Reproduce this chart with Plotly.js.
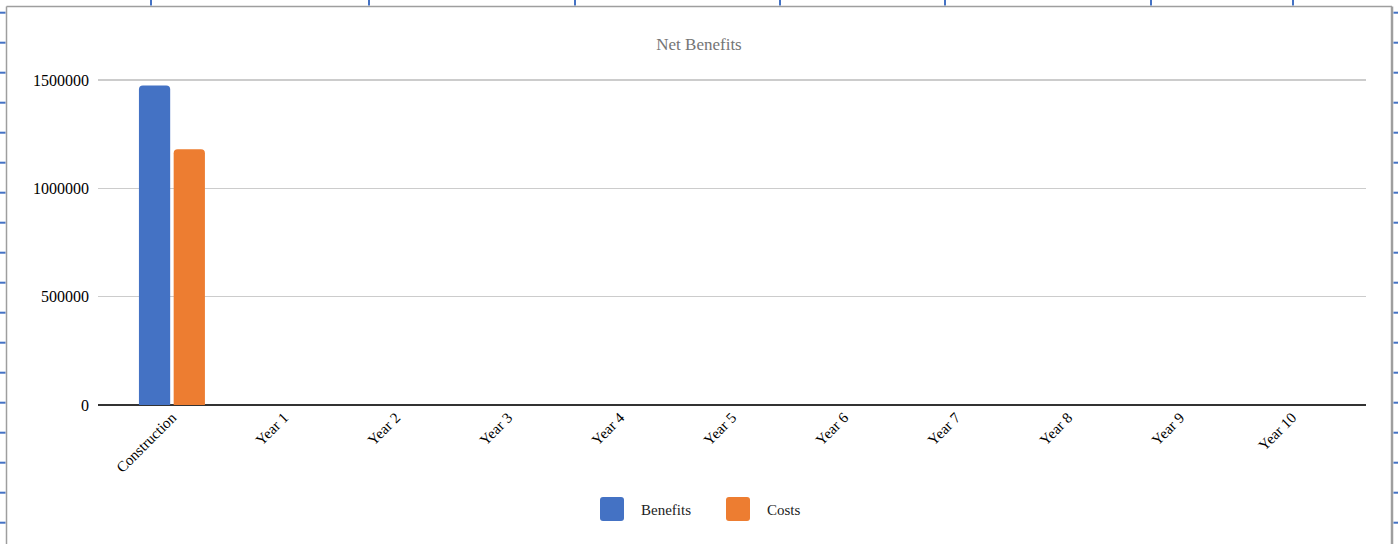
<!DOCTYPE html>
<html>
<head>
<meta charset="utf-8">
<script src="https://cdn.plot.ly/plotly-3.0.1.min.js"></script>
<style>
  html, body { margin: 0; padding: 0; background: #fff; }
  #chart { width: 1398px; height: 544px; }
</style>
</head>
<body>
<div id="chart"></div>
<script>
// ---- data ----
const categories = ["Construction", "Year 1", "Year 2", "Year 3", "Year 4", "Year 5",
                    "Year 6", "Year 7", "Year 8", "Year 9", "Year 10"];
const benefits = [1475000, 0, 0, 0, 0, 0, 0, 0, 0, 0, 0];
const costs    = [1180000, 0, 0, 0, 0, 0, 0, 0, 0, 0, 0];
const yTicks   = [0, 500000, 1000000, 1500000];
const seriesNames = ["Benefits", "Costs"];
const chartTitle = "Net Benefits";

// ---- styles ----
const BLUE = "#4472c4";
const ORANGE = "#ed7d31";
const FONT = "Liberation Serif, Times New Roman, serif";

const traces = [
  { type: "bar", name: seriesNames[0], x: categories, y: benefits,
    marker: { color: BLUE, cornerradius: 4 }, showlegend: false, hoverinfo: "x+y" },
  { type: "bar", name: seriesNames[1], x: categories, y: costs,
    marker: { color: ORANGE, cornerradius: 4 }, showlegend: false, hoverinfo: "x+y" }
];

const W = 1398, H = 544;
const frameLines = [
  { x0: 6.5, y0: 6.5, x1: 1392, y1: 6.5, color: "#9e9e9e", w: 1.5 },
  { x0: 6.5, y0: 6.5, x1: 6.5, y1: 544, color: "#9e9e9e", w: 1.5 },
  { x0: 1392, y0: 6.5, x1: 1392, y1: 544, color: "#9e9e9e", w: 2.5 }
];
const leftTicksY = [];
for (let k = 0; k < 18; k++) leftTicksY.push(12.7 + 30 * k);
const topTicksX = [151, 369, 575, 780, 945, 1151, 1293];

const layout = {
  width: W, height: H,
  margin: { l: 98, r: 32, t: 76, b: 139 },
  paper_bgcolor: "#ffffff",
  plot_bgcolor: "#ffffff",
  font: { family: FONT, size: 15, color: "#000" },
  title: { text: chartTitle, x: 0.5, xanchor: "center", y: 1 - 44 / H, yanchor: "middle",
           font: { family: FONT, size: 17, color: "#757575" } },
  barmode: "group",
  bargap: 0.38,
  bargroupgap: 0.1,
  showlegend: false,
  xaxis: {
    type: "category",
    range: [-0.66, 10.66],
    tickangle: -45,
    showgrid: false,
    showline: false,
    zeroline: false,
    ticks: "",
    tickfont: { family: FONT, size: 15, color: "#000" },
    fixedrange: true
  },
  yaxis: {
    range: [0, 1500000 + (4 / 108.33) * 500000],
    tickvals: yTicks,
    ticktext: yTicks.map(v => String(v)),
    showgrid: true,
    gridcolor: "#cccccc",
    gridwidth: 1.5,
    zeroline: true,
    zerolinecolor: "#333333",
    zerolinewidth: 2,
    showline: false,
    ticks: "",
    ticklen: 0,
    ticklabelstandoff: 8,
    tickfont: { family: FONT, size: 16, color: "#000" },
    fixedrange: true
  },
  shapes: [],
  annotations: []
};

function toPaperX(x) { return (x - layout.margin.l) / (W - layout.margin.l - layout.margin.r); }
function toPaperY(y) { return 1 - (y - layout.margin.t) / (H - layout.margin.t - layout.margin.b); }

frameLines.forEach(f => layout.shapes.push({
  type: "line", xref: "paper", yref: "paper", layer: "above",
  x0: toPaperX(f.x0), x1: toPaperX(f.x1), y0: toPaperY(f.y0), y1: toPaperY(f.y1),
  line: { color: f.color, width: f.w }
}));
leftTicksY.forEach(y => {
  layout.shapes.push({ type: "line", xref: "paper", yref: "paper", layer: "above",
    x0: toPaperX(0), x1: toPaperX(5.5), y0: toPaperY(y), y1: toPaperY(y),
    line: { color: BLUE, width: 2 } });
  layout.shapes.push({ type: "line", xref: "paper", yref: "paper", layer: "above",
    x0: toPaperX(1393.5), x1: toPaperX(1398), y0: toPaperY(y), y1: toPaperY(y),
    line: { color: BLUE, width: 2 } });
});
topTicksX.forEach(x => layout.shapes.push({ type: "line", xref: "paper", yref: "paper", layer: "above",
  x0: toPaperX(x), x1: toPaperX(x), y0: toPaperY(0), y1: toPaperY(5.5),
  line: { color: BLUE, width: 2 } }));

// custom legend (large rounded swatches)
const legendItems = [
  { name: seriesNames[0], color: BLUE, sx: 600, tx: 639 },
  { name: seriesNames[1], color: ORANGE, sx: 726, tx: 765 }
];
legendItems.forEach(it => {
  layout.shapes.push({ type: "path", xref: "paper", yref: "paper", layer: "above",
    path: roundRect(it.sx, 497, 24, 24, 3), fillcolor: it.color, line: { width: 0 } });
  layout.annotations.push({ xref: "paper", yref: "paper", showarrow: false,
    x: toPaperX(it.tx), y: toPaperY(510), xanchor: "left", yanchor: "middle",
    text: it.name, font: { family: FONT, size: 15, color: "#222" } });
});

function roundRect(x, y, w, h, r) {
  const X = v => toPaperX(v), Y = v => toPaperY(v);
  return `M${X(x + r)},${Y(y)} L${X(x + w - r)},${Y(y)} Q${X(x + w)},${Y(y)} ${X(x + w)},${Y(y + r)} ` +
         `L${X(x + w)},${Y(y + h - r)} Q${X(x + w)},${Y(y + h)} ${X(x + w - r)},${Y(y + h)} ` +
         `L${X(x + r)},${Y(y + h)} Q${X(x)},${Y(y + h)} ${X(x)},${Y(y + h - r)} ` +
         `L${X(x)},${Y(y + r)} Q${X(x)},${Y(y)} ${X(x + r)},${Y(y)} Z`;
}

Plotly.newPlot("chart", traces, layout, { displayModeBar: false, staticPlot: true });
</script>
</body>
</html>
